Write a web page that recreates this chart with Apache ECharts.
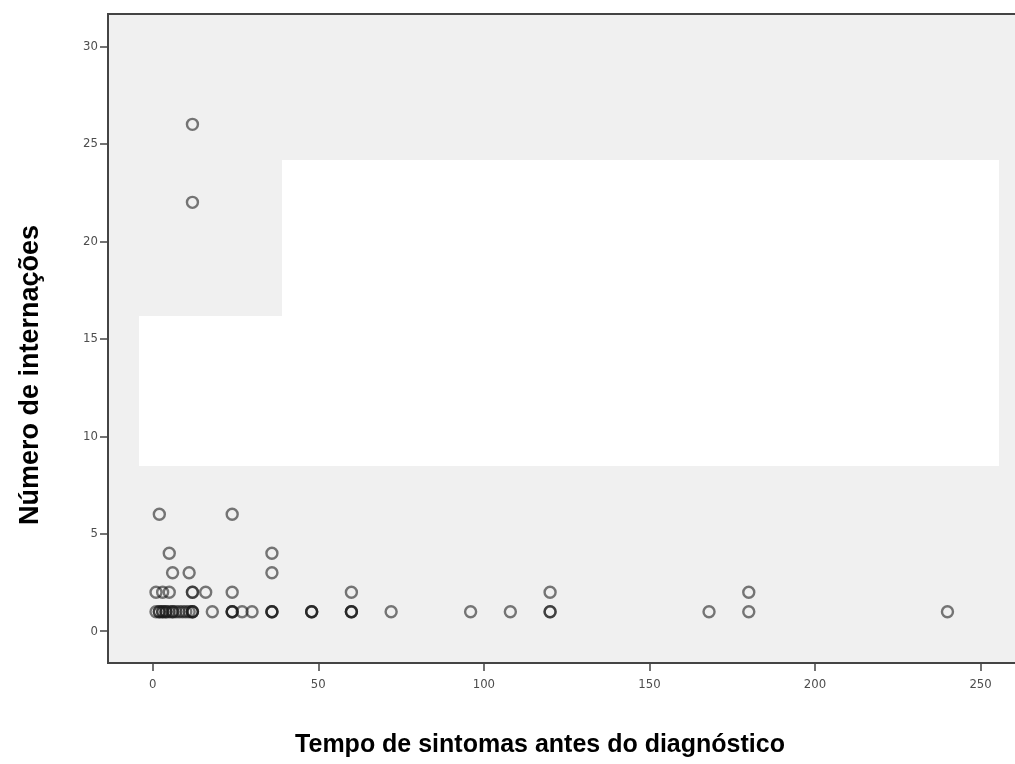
<!DOCTYPE html>
<html>
<head>
  <meta charset="utf-8" />
  <title>Tempo de sintomas x internações</title>
  <script src="https://cdn.jsdelivr.net/npm/echarts@6.0.0/dist/echarts.min.js"></script>
</head>
<style>
  body { margin: 0; padding: 0; overflow: hidden; background: #fff; }
</style>
<body>
  <div id="main" style="width: 1015px; height: 764px;"></div>
  <script type="text/javascript">
    // tempo de sintomas (meses) e número de internações
    const tempo = [
      12, 12,
      2, 24,
      5, 36,
      6, 11, 36,
      1, 3, 5, 12, 12, 16, 24, 60, 120, 180,
      1, 2, 2, 3, 3, 4, 4, 5, 6, 6, 7, 8, 9, 10, 11, 12, 12, 12,
      18, 24, 24, 24, 27, 30, 36, 36, 36, 48, 48, 48, 60, 60, 60, 72,
      96, 108, 120, 120, 168, 180, 240
    ];
    const internacoes = [
      26, 22,
      6, 6,
      4, 4,
      3, 3, 3,
      2, 2, 2, 2, 2, 2, 2, 2, 2, 2,
      1, 1, 1, 1, 1, 1, 1, 1, 1, 1, 1, 1, 1, 1, 1, 1, 1, 1,
      1, 1, 1, 1, 1, 1, 1, 1, 1, 1, 1, 1, 1, 1, 1, 1,
      1, 1, 1, 1, 1, 1, 1
    ];
    const xTicks = [0, 50, 100, 150, 200, 250];
    const yTicks = [0, 5, 10, 15, 20, 25, 30];

    const xTitle = 'Tempo de sintomas antes do diagnóstico';
    const yTitle = 'Número de internações';

    const myChart = echarts.init(document.getElementById('main'));

    const labelFont = {
      color: '#4d4d4d',
      fontFamily: 'DejaVu Sans Condensed, Liberation Sans Narrow, Liberation Sans, sans-serif',
      fontSize: 13
    };

    const option = {
      animation: false,
      grid: {
        left: 108,
        right: -3,
        top: 14,
        bottom: 101,
        outerBoundsMode: 'none',
        containLabel: false,
        show: true,
        backgroundColor: '#f0f0f0',
        borderColor: '#444',
        borderWidth: 2
      },
      xAxis: {
        type: 'value',
        min: -13.5,
        max: 261.3,
        splitLine: { show: false },
        axisLine: { show: true, onZero: false, lineStyle: { color: '#444', width: 2 } },
        axisTick: { show: true, customValues: xTicks, length: 8, lineStyle: { color: '#444', width: 1.5 } },
        axisLabel: Object.assign({ customValues: xTicks, margin: 15 }, labelFont)
      },
      yAxis: {
        type: 'value',
        min: -1.63,
        max: 31.66,
        splitLine: { show: false },
        axisLine: { show: true, onZero: false, lineStyle: { color: '#444', width: 2 } },
        axisTick: { show: true, customValues: yTicks, length: 8, lineStyle: { color: '#444', width: 1.5 } },
        axisLabel: Object.assign({ customValues: yTicks, margin: 10 }, labelFont)
      },
      graphic: [
        // manchas brancas que cobrem parte da área do gráfico na figura
        { type: 'rect', z: 1, shape: { x: 282, y: 160, width: 717, height: 306 }, style: { fill: '#fff' } },
        { type: 'rect', z: 1, shape: { x: 139, y: 316, width: 143, height: 150 }, style: { fill: '#fff' } },
        // títulos dos eixos
        {
          type: 'text', x: 31, y: 375, rotation: Math.PI / 2,
          style: {
            text: yTitle, fill: '#000',
            font: 'bold 27px "Liberation Sans", sans-serif',
            textAlign: 'center', textVerticalAlign: 'middle'
          }
        },
        {
          type: 'text', x: 540, y: 745,
          style: {
            text: xTitle, fill: '#000',
            font: 'bold 25px "Liberation Sans", sans-serif',
            textAlign: 'center', textVerticalAlign: 'middle'
          }
        }
      ],
      series: [
        {
          type: 'scatter',
          symbol: 'circle',
          symbolSize: 11,
          z: 5,
          itemStyle: {
            color: 'rgba(0,0,0,0)',
            borderColor: 'rgba(25,25,25,0.72)',
            borderWidth: 2.4
          },
          data: tempo.map((t, i) => [t, internacoes[i]])
        }
      ]
    };
    myChart.setOption(option);
  </script>
</body>
</html>
